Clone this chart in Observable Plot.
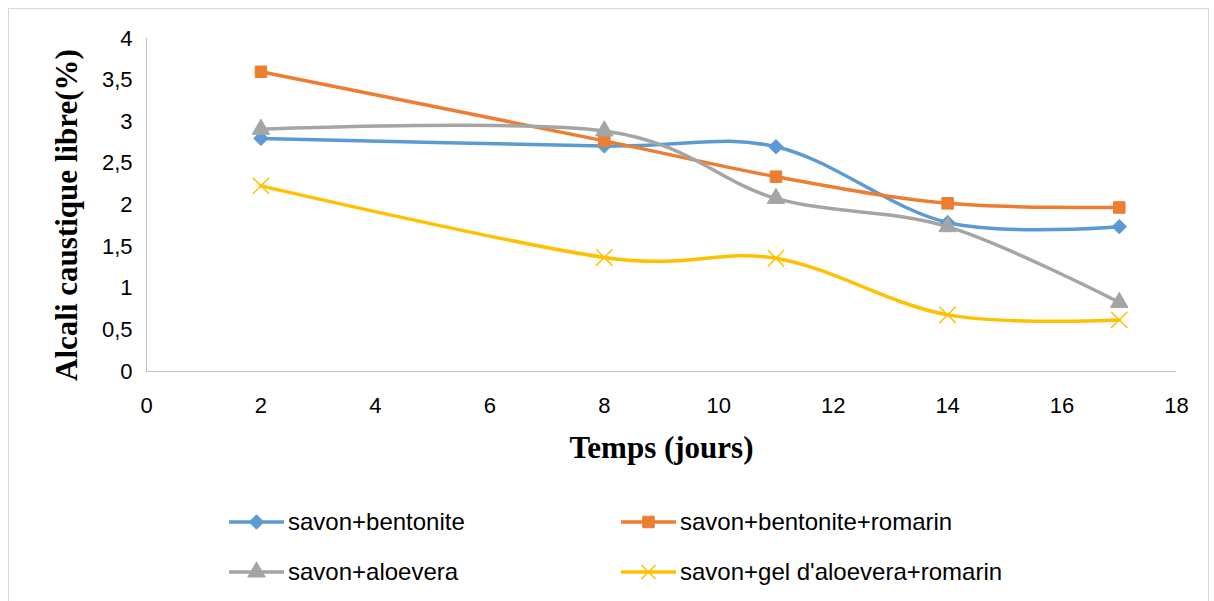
<!DOCTYPE html>
<html>
<head>
<meta charset="utf-8">
<script src="https://cdn.jsdelivr.net/npm/d3@7"></script>
<script src="https://cdn.jsdelivr.net/npm/@observablehq/plot@0.6"></script>
<style>
  html, body { margin: 0; padding: 0; background: #fff; }
  #wrap { position: relative; width: 1214px; height: 601px; overflow: hidden; background: #fff; }
  #frame { position: absolute; left: 8px; top: 8px; width: 1201px; height: 600px; border: 1px solid #d9d9d9; box-sizing: border-box; }
  #chart { position: absolute; left: 0; top: 0; }
  .leg { position: absolute; display: flex; align-items: center; font-family: "Liberation Sans", Arial, sans-serif; font-size: 24px; color: #000; white-space: nowrap; }
  .leg svg { display: block; margin-right: 4px; }
</style>
</head>
<body>
<div id="wrap">
  <div id="frame"></div>
  <div id="chart"></div>
  <div id="legend"></div>
</div>
<script>
// ---- data ----
const jours = [2, 8, 11, 14, 17];
const seriesNames = ["savon+bentonite", "savon+bentonite+romarin", "savon+aloevera", "savon+gel d'aloevera+romarin"];
const bentonite = [2.80, 2.71, 2.70, 1.79, 1.74];
const bentoniteRomarin = [3.60, 2.77, 2.34, 2.02, 1.97];
const aloevera = [2.91, 2.89, 2.08, 1.74, 0.83];
const gelAloeveraRomarin = [2.23, 1.37, 1.36, 0.68, 0.62];
const seriesColors = ["#5B9BD5", "#ED7D31", "#A5A5A5", "#FFC000"];
const seriesSymbols = ["diamond2", "square", "triangle", "times"];
const xTicks = [0, 2, 4, 6, 8, 10, 12, 14, 16, 18];
const yTicks = [0, 0.5, 1, 1.5, 2, 2.5, 3, 3.5, 4];
const xTitle = "Temps (jours)";
const yTitle = "Alcali caustique libre(%)";

const allValues = [bentonite, bentoniteRomarin, aloevera, gelAloeveraRomarin];
const data = [];
seriesNames.forEach((s, i) => jours.forEach((j, k) => data.push({serie: s, jour: j, val: allValues[i][k]})));

const fmt = d => String(d).replace(".", ",");
const tickFont = "Liberation Sans, Arial, sans-serif";
const titleFont = "Liberation Serif, Times New Roman, serif";

const chart = Plot.plot({
  width: 1214,
  height: 470,
  marginLeft: 146,
  marginRight: 38,
  marginTop: 38,
  marginBottom: 99,
  style: {background: "transparent", fontFamily: tickFont, fontSize: "22px", color: "#000", overflow: "visible"},
  x: {domain: [0, 18], ticks: xTicks},
  y: {domain: [0, 4], ticks: yTicks},
  color: {domain: seriesNames, range: seriesColors},
  symbol: {domain: seriesNames, range: seriesSymbols},
  marks: [
    Plot.ruleY([0], {stroke: "#bfbfbf", strokeWidth: 1}),
    Plot.ruleX([0], {stroke: "#bfbfbf", strokeWidth: 1}),
    Plot.axisX({ticks: xTicks, tickSize: 0, tickPadding: 26, tickFormat: fmt, label: null, fontSize: 22}),
    Plot.axisY({ticks: yTicks, tickSize: 0, tickPadding: 14, tickFormat: fmt, label: null, fontSize: 22}),
    Plot.line(data, {x: "jour", y: "val", z: "serie", stroke: "serie", strokeWidth: 3.5, curve: "cardinal"}),
    Plot.dot(data.filter(d => d.serie !== seriesNames[3]), {x: "jour", y: "val", symbol: "serie", fill: "serie", stroke: "serie", strokeWidth: 1, r: 6.5}),
    Plot.dot(data.filter(d => d.serie === seriesNames[3]), {x: "jour", y: "val", symbol: "serie", stroke: "serie", strokeWidth: 1.5, r: 7.5}),
    Plot.text([xTitle], {frameAnchor: "bottom", dy: 77, lineAnchor: "middle", textAnchor: "middle", fontFamily: titleFont, fontWeight: "bold", fontSize: 31, fill: "#000"}),
    Plot.text([yTitle], {frameAnchor: "left", rotate: -90, dx: -79, dy: 10, lineAnchor: "middle", textAnchor: "middle", fontFamily: titleFont, fontWeight: "bold", fontSize: 31, fill: "#000"})
  ]
});
document.getElementById("chart").appendChild(chart);

// ---- legend ----
const legPos = [[229, 522], [621, 522], [229, 572], [621, 572]];
const legend = document.getElementById("legend");
const symMap = {diamond2: d3.symbolDiamond2, square: d3.symbolSquare, triangle: d3.symbolTriangle, times: d3.symbolTimes};
seriesNames.forEach((s, i) => {
  const div = document.createElement("div");
  div.className = "leg";
  div.style.left = legPos[i][0] + "px";
  div.style.top = (legPos[i][1] - 15) + "px";
  div.style.height = "30px";
  const svg = d3.create("svg").attr("width", 55).attr("height", 30);
  svg.append("line").attr("x1", 0).attr("x2", 55).attr("y1", 15).attr("y2", 15).attr("stroke", seriesColors[i]).attr("stroke-width", 3.5);
  const sym = d3.symbol(symMap[seriesSymbols[i]], Math.PI * 6.5 * 6.5)();
  const p = svg.append("path").attr("d", sym).attr("transform", "translate(27.5,15)");
  if (seriesSymbols[i] === "times") p.attr("fill", "none").attr("stroke", seriesColors[i]).attr("stroke-width", 1.5);
  else p.attr("fill", seriesColors[i]).attr("stroke", seriesColors[i]);
  div.appendChild(svg.node());
  const t = document.createElement("span");
  t.textContent = s;
  div.appendChild(t);
  legend.appendChild(div);
});
</script>
</body>
</html>
